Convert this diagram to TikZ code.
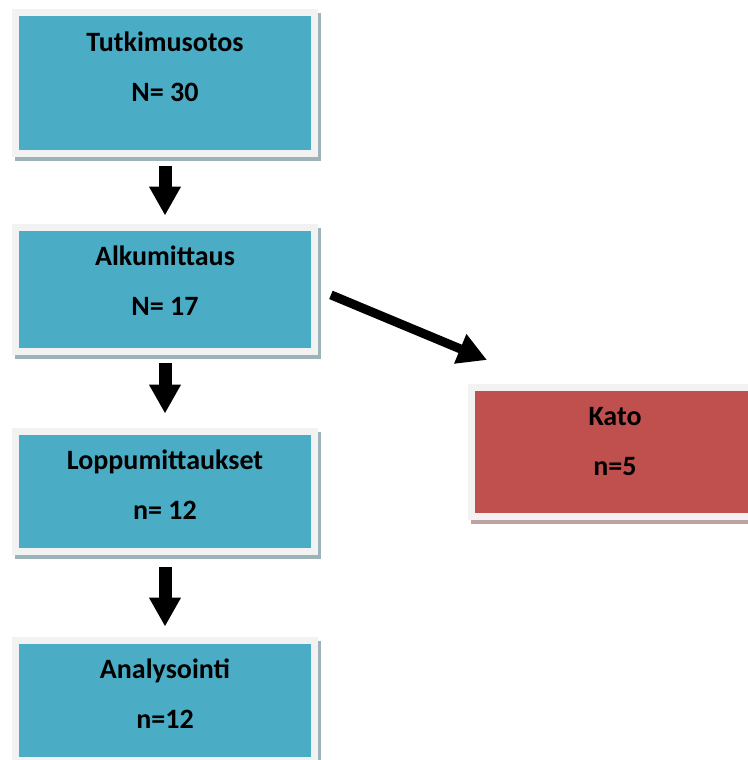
\documentclass[tikz,border=0pt]{standalone}
\usepackage{fontspec}
\setmainfont{Carlito}
\usetikzlibrary{arrows.meta,shadows}
\definecolor{box-blue}{HTML}{4BACC6}
\definecolor{box-red}{HTML}{C0504D}
\definecolor{box-edge}{HTML}{F2F2F2}
\definecolor{shade-blue}{HTML}{9DB3BA}
\definecolor{shade-red}{HTML}{BFA3A3}

\begin{document}
\begin{tikzpicture}[x=1pt, y=-1pt,
    every node/.style={font=\fontsize{28}{50}\selectfont\bfseries},
    boxbase/.style={draw=box-edge, line width=7pt, inner sep=0pt,
      text height=88pt, align=center, anchor=north},
    stepbox/.style={boxbase, fill=box-blue, minimum width=299pt,
      drop shadow={shadow xshift=3pt, shadow yshift=-4pt, opacity=1,
        fill=shade-blue, draw=shade-blue}},
    katobox/.style={boxbase, fill=box-red, minimum width=287pt,
      drop shadow={shadow xshift=3pt, shadow yshift=-4pt, opacity=1,
        fill=shade-red, draw=shade-red}},
    flow/.style={-{Triangle[width=30pt, length=29pt]}, line width=13pt},
  ]
    \useasboundingbox (0,0) rectangle (747,760);
    % vaiheet
    \node[stepbox, text depth=52pt] (otos) at (165,9.5) {Tutkimusotos\\N= 30};
    \node[stepbox, text depth=36pt] (alku) at (165,224) {Alkumittaus\\N= 17};
    \node[stepbox, text depth=32pt] (loppu) at (165,427.5) {Loppumittaukset\\n= 12};
    \node[stepbox, text depth=32pt] (analyysi) at (165,637) {Analysointi\\n=12};
    \node[katobox, text depth=41pt] (kato) at (615,383.5) {Kato\\n=5};
    % nuolet
    \draw[flow, shorten <=9pt, shorten >=8.5pt] (otos) -- (alku);
    \draw[flow, shorten <=8pt, shorten >=14pt] (alku) -- (loppu);
    \draw[flow, shorten <=12.5pt, shorten >=10.5pt] (loppu) -- (analyysi);
    \coordinate (katotip) at (487,360);
    \draw[flow, line width=9pt, shorten <=14pt] (alku.east) -- (katotip);
  \end{tikzpicture}
\end{document}
